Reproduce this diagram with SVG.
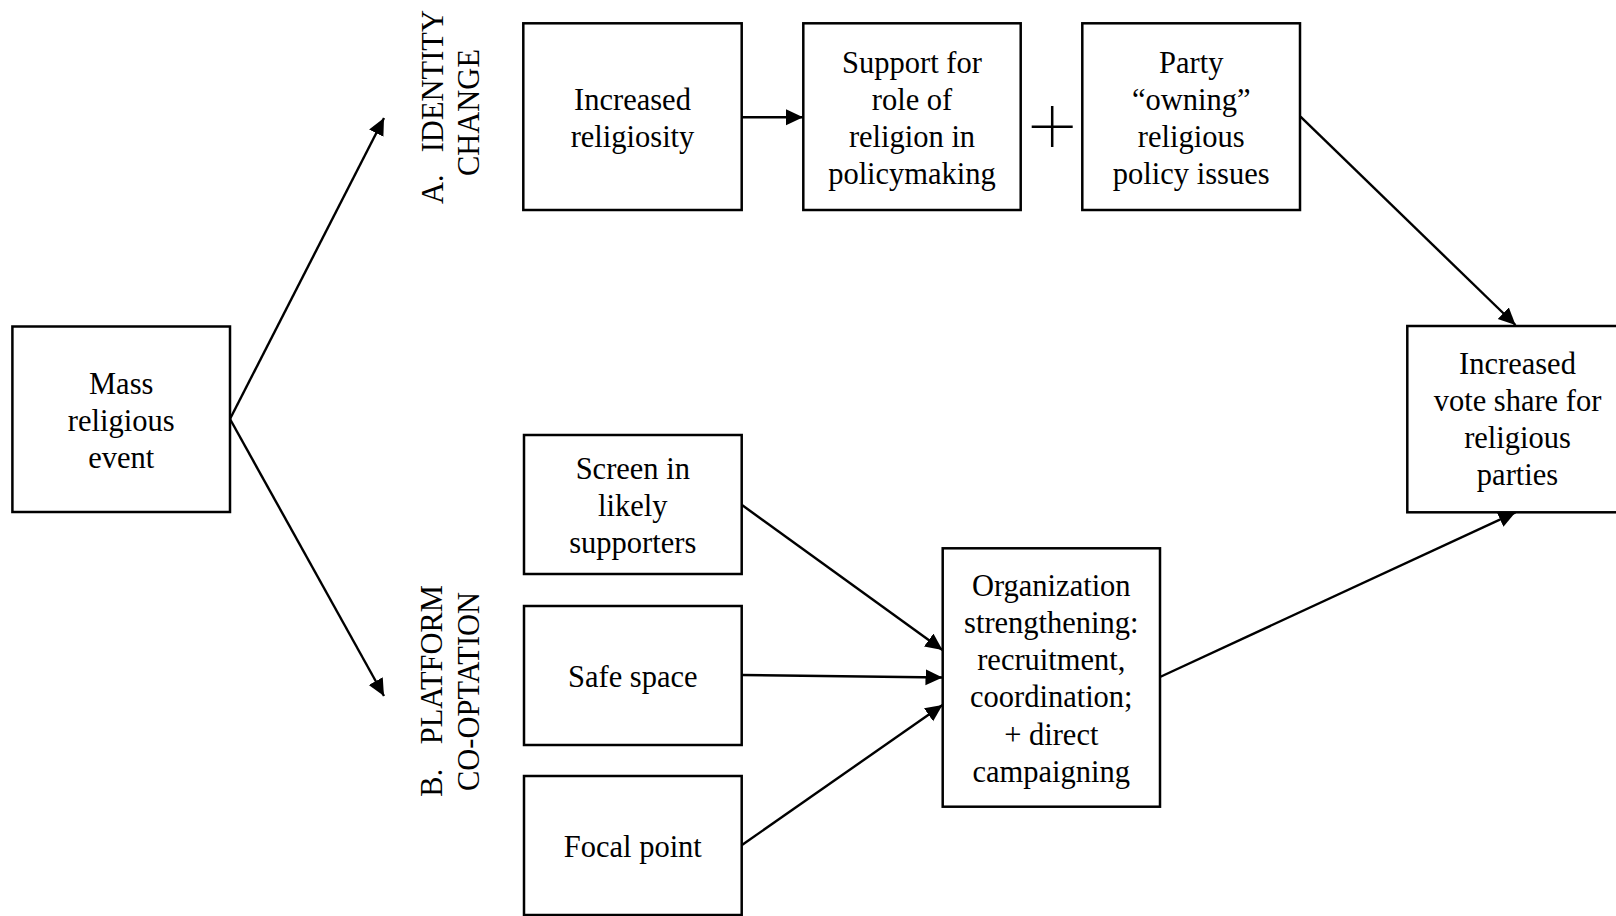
<svg xmlns="http://www.w3.org/2000/svg" width="1616" height="916" viewBox="0 0 1616 916">
<style>
.box{fill:#fff;stroke:#000;stroke-width:2.5}
.t{font-family:"Liberation Serif","Times New Roman",serif;font-size:30.5px;fill:#000;text-anchor:middle}
.lbl{font-family:"Liberation Serif","Times New Roman",serif;font-size:30.5px;fill:#000}
.c{fill:none;stroke:#000;stroke-width:2.4}
</style>
<defs>
<marker id="ah" markerUnits="userSpaceOnUse" markerWidth="18" markerHeight="17" refX="17" refY="8" orient="auto">
<path d="M0,0 L17,8 L0,16 Z" fill="#000"/>
</marker>
</defs>
<rect width="1616" height="916" fill="#fff"/>
<g id="connectors">
<line class="c" x1="230" y1="419" x2="384" y2="118" marker-end="url(#ah)"/>
<line class="c" x1="230" y1="419" x2="384" y2="696" marker-end="url(#ah)"/>
<line class="c" x1="742" y1="117.3" x2="803" y2="117.3" marker-end="url(#ah)"/>
<line class="c" x1="1300.5" y1="116.7" x2="1515.5" y2="325" marker-end="url(#ah)"/>
<line class="c" x1="742" y1="505" x2="942.5" y2="650" marker-end="url(#ah)"/>
<line class="c" x1="742" y1="675" x2="942.5" y2="677.5" marker-end="url(#ah)"/>
<line class="c" x1="742" y1="845" x2="942.5" y2="705" marker-end="url(#ah)"/>
<line class="c" x1="1160" y1="677" x2="1515.5" y2="512.3" marker-end="url(#ah)"/>
</g>
<g id="plus">
<path d="M1031.7,126.7 H1072.7 M1052.2,106 V147" fill="none" stroke="#000" stroke-width="2.5"/>
</g>
<g id="label-a">
<text class="lbl" transform="rotate(-90)" x="-204" y="443">A.</text>
<text class="lbl" transform="rotate(-90)" x="-10" y="443" text-anchor="end">IDENTITY</text>
<text class="lbl" transform="rotate(-90)" x="-112.5" y="479" text-anchor="middle">CHANGE</text>
</g>
<g id="label-b">
<text class="lbl" transform="rotate(-90)" x="-796.7" y="442">B.</text>
<text class="lbl" transform="rotate(-90)" x="-585" y="442" text-anchor="end">PLATFORM</text>
<text class="lbl" transform="rotate(-90)" x="-691.5" y="478.5" text-anchor="middle">CO-OPTATION</text>
</g>
<g id="mass">
<rect class="box" x="12.4" y="326.5" width="217.6" height="185.5"/>
<text class="t" x="121.2" y="394">Mass</text>
<text class="t" x="121.2" y="431">religious</text>
<text class="t" x="121.2" y="468">event</text>
</g>
<g id="religiosity">
<rect class="box" x="523.3" y="23.3" width="218.4" height="186.7"/>
<text class="t" x="632.5" y="110">Increased</text>
<text class="t" x="632.5" y="146.7">religiosity</text>
</g>
<g id="support">
<rect class="box" x="803.3" y="23.3" width="217.4" height="186.7"/>
<text class="t" x="912" y="72.7">Support for</text>
<text class="t" x="912" y="110">role of</text>
<text class="t" x="912" y="146.7">religion in</text>
<text class="t" x="912" y="184">policymaking</text>
</g>
<g id="party">
<rect class="box" x="1082.3" y="23.3" width="217.7" height="186.7"/>
<text class="t" x="1191.2" y="72.7">Party</text>
<text class="t" x="1191.2" y="110">“owning”</text>
<text class="t" x="1191.2" y="146.7">religious</text>
<text class="t" x="1191.2" y="184">policy issues</text>
</g>
<g id="vote">
<rect class="box" x="1407.3" y="326" width="218" height="186.3"/>
<text class="t" x="1517.5" y="374">Increased</text>
<text class="t" x="1517.5" y="411">vote share for</text>
<text class="t" x="1517.5" y="448.3">religious</text>
<text class="t" x="1517.5" y="485">parties</text>
</g>
<g id="screen">
<rect class="box" x="524" y="435" width="217.7" height="139"/>
<text class="t" x="632.8" y="479.3">Screen in</text>
<text class="t" x="632.8" y="516">likely</text>
<text class="t" x="632.8" y="553.3">supporters</text>
</g>
<g id="safe">
<rect class="box" x="524" y="606" width="217.7" height="139"/>
<text class="t" x="632.8" y="686.7">Safe space</text>
</g>
<g id="focal">
<rect class="box" x="524" y="776" width="217.7" height="139"/>
<text class="t" x="632.8" y="857.3">Focal point</text>
</g>
<g id="organization">
<rect class="box" x="942.7" y="548.3" width="217.3" height="258.4"/>
<text class="t" x="1051.3" y="596">Organization</text>
<text class="t" x="1051.3" y="633.3">strengthening:</text>
<text class="t" x="1051.3" y="670">recruitment,</text>
<text class="t" x="1051.3" y="706.7">coordination;</text>
<text class="t" x="1051.3" y="745">+ direct</text>
<text class="t" x="1051.3" y="781.7">campaigning</text>
</g>
</svg>
